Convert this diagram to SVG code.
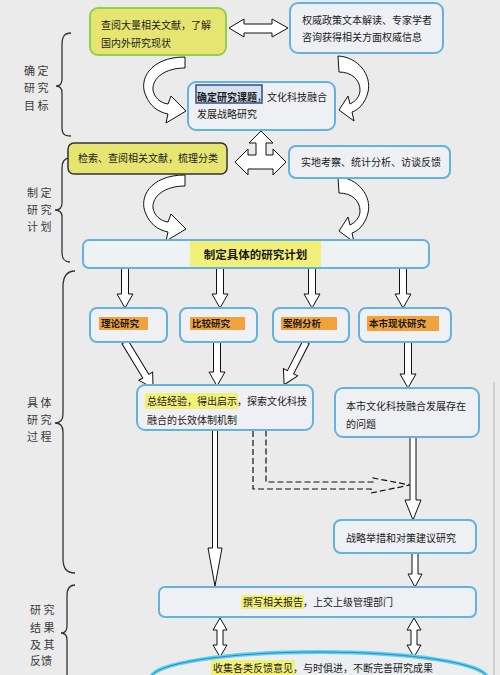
<svg xmlns="http://www.w3.org/2000/svg" width="500" height="675" viewBox="0 0 500 675">
<style>
.t{font-family:"Noto Sans CJK SC","Noto Sans",sans-serif;font-size:10px;fill:#1a1a1a}
.b{font-weight:bold}
.lbl{font-family:"Noto Sans CJK SC","Noto Sans",sans-serif;font-size:11px;fill:#3a3a3a;white-space:pre}
.bn{fill:#eef0f3;stroke:#62b3e0;stroke-width:2}
.yn{fill:#e6e571}
.hy{fill:#f3f07a}
.ho{fill:#f0a33c}
.blk{fill:#fff;stroke:#111;stroke-width:1;stroke-linejoin:miter}
.br{fill:none;stroke:#333;stroke-width:1.3}
.dash{fill:none;stroke:#111;stroke-width:1.2;stroke-dasharray:6 3}
</style>
<rect width="500" height="675" fill="#ebebeb"/>
<line x1="494" y1="382" x2="494" y2="675" stroke="#c9c9c9" stroke-width="1.5"/>

<g id="labels">
<path class="br" d="M71,33 C64,33 62,37 62,45 L62,79 C62,84 60,86 56,86 C60,86 62,88 62,93 L62,127 C62,134 64,136 71,136"/>
<text class="lbl" x="24" y="75">确 定</text>
<text class="lbl" x="24" y="92">研 究</text>
<text class="lbl" x="24" y="110">目 标</text>
<path class="br" d="M70,158 C64,158 62,162 62,168 L62,203 C62,208 59,210 55,210 C59,210 62,212 62,217 L62,252 C62,259 64,262 70,262"/>
<text class="lbl" x="27" y="197">制 定</text>
<text class="lbl" x="27" y="214">研 究</text>
<text class="lbl" x="27" y="231">计 划</text>
<path class="br" d="M75,271 C66,271 63,277 63,287 L63,414 C63,420 60,423 55,423 C60,423 63,426 63,432 L63,558 C63,568 66,573 75,573"/>
<text class="lbl" x="27" y="407">具 体</text>
<text class="lbl" x="27" y="424">研 究</text>
<text class="lbl" x="27" y="441">过 程</text>
<path class="br" d="M75,585 C69,585 67,589 67,596 L67,626 C67,631 65,633 61,633 C65,633 67,635 67,640 L67,680"/>
<text class="lbl" x="30" y="614">研 究</text>
<text class="lbl" x="30" y="632">结 果</text>
<text class="lbl" x="30" y="649">及 其</text>
<text class="lbl" x="30" y="665">反馈</text>
</g>

<g id="connectors">
<path class="blk" d="M229,28 L244,19 L244,24 L272,24 L272,19 L288,28 L272,37 L272,33 L244,33 L244,37 Z"/>
<path class="blk" d="M185,57 C150,57 138,80 146,96 C150,106 158,112 168,114 L166,123 L186,111 L171,96 L168,104 C160,103 154,97 153,90 C152,78 165,68 185,68 Z"/>
<path class="blk" d="M338,56 C358,57 372,75 368,92 C365,104 358,110 352,112 L354,121 L339,110 L348,96 L350,104 C356,101 360,96 360,90 C360,80 352,72 339,72 Z"/>
<path class="blk" d="M235,162 L248,149 L248,155 L256,155 L256,143 L249,143 L261,131 L273,143 L266,143 L266,155 L273,155 L273,149 L286,162 L273,175 L273,169 L248,169 L248,175 Z"/>
<path class="blk" transform="translate(0,118)" d="M185,57 C150,57 138,80 146,96 C150,106 158,112 168,114 L166,123 L186,111 L171,96 L168,104 C160,103 154,97 153,90 C152,78 165,68 185,68 Z"/>
<path class="blk" transform="translate(0,121)" d="M338,56 C358,57 372,75 368,92 C365,104 358,110 352,112 L354,121 L339,110 L348,96 L350,104 C356,101 360,96 360,90 C360,80 352,72 339,72 Z"/>
<path class="blk" d="M121.5,268 L128.5,268 L128.5,294 L133,294 L125,308 L117,294 L121.5,294 Z"/>
<path class="blk" d="M216.5,268 L223.5,268 L223.5,294 L228,294 L220,308 L212,294 L216.5,294 Z"/>
<path class="blk" d="M308.5,268 L315.5,268 L315.5,294 L320,294 L312,308 L304,294 L308.5,294 Z"/>
<path class="blk" d="M399.5,268 L406.5,268 L406.5,294 L411,294 L403,308 L395,294 L399.5,294 Z"/>
<path class="blk" transform="translate(125,342) rotate(-31.3)" d="M-3.5,0 L3.5,0 L3.5,40 L8,40 L0,54 L-8,40 L-3.5,40 Z"/>
<path class="blk" d="M213.5,342 L220.5,342 L220.5,372 L225,372 L217,386 L209,372 L213.5,372 Z"/>
<path class="blk" transform="translate(306,342) rotate(27.1)" d="M-3.5,0 L3.5,0 L3.5,34 L8,34 L0,48 L-8,34 L-3.5,34 Z"/>
<path class="blk" d="M404.5,342 L411.5,342 L411.5,374 L416,374 L408,388 L400,374 L404.5,374 Z"/>
<path class="blk" d="M212.5,430 L217.5,430 L217.5,548 L222,548 L215,586 L208,548 L212.5,548 Z"/>
<path class="dash" d="M253,431 L253,489 L371,489 L371,493 L410,485 L373,478 L373,482 L266,482 L266,431"/>
<path class="blk" d="M410,437 L416,437 L416,500 L421,500 L413,520 L405,500 L410,500 Z"/>
<path class="blk" d="M412,553 L418,553 L418,574 L422,574 L415,587 L408,574 L412,574 Z"/>
<path class="blk" d="M220,618 L227,630 L223,630 L223,645 L227,645 L220,657 L213,645 L217,645 L217,630 L213,630 Z"/>
<path class="blk" d="M414,618 L421,630 L417,630 L417,645 L421,645 L414,657 L407,645 L411,645 L411,630 L407,630 Z"/>
</g>

<g id="n_lit">
<rect class="yn" x="90" y="8" width="136" height="47" rx="8" stroke="#8fd14f" stroke-width="2"/>
<text class="t" x="101" y="29">查阅大量相关文献，了解</text>
<text class="t" x="101" y="47">国内外研究现状</text>
</g>
<g id="n_policy">
<rect class="bn" x="290" y="3" width="153" height="50" rx="8"/>
<text class="t" x="302" y="24">权威政策文本解读、专家学者</text>
<text class="t" x="302" y="41">咨询获得相关方面权威信息</text>
</g>
<g id="n_topic">
<rect class="bn" x="188" y="82" width="147" height="48" rx="8"/>
<rect x="196" y="85" width="66" height="18" fill="#d6e0ec" stroke="#2c4c8c" stroke-width="1.5"/>
<text class="t" x="197" y="101"><tspan class="b">确定研究课题</tspan>，文化科技融合</text>
<text class="t" x="197" y="118">发展战略研究</text>
</g>
<g id="n_search">
<rect class="yn" x="68" y="143" width="159" height="31" rx="6" stroke="#333" stroke-width="1.5"/>
<text class="t" x="78" y="162">检索、查阅相关文献，梳理分类</text>
</g>
<g id="n_field">
<rect class="bn" x="289" y="146" width="161" height="32" rx="7"/>
<text class="t" x="301" y="166">实地考察、统计分析、访谈反馈</text>
</g>
<g id="n_plan">
<rect x="83" y="240" width="346" height="28" rx="6" fill="#eef2f5" stroke="#63b2df" stroke-width="2"/>
<rect class="hy" x="190" y="241" width="131" height="26"/>
<text class="t b" x="255.5" y="259" text-anchor="middle" style="font-size:11.5px">制定具体的研究计划</text>
</g>
<g id="n_theory">
<rect class="bn" x="90" y="308" width="77" height="34" rx="7"/>
<rect class="ho" x="99" y="317" width="49" height="13"/>
<text class="t b" x="101" y="327" style="font-size:9.5px">理论研究</text>
</g>
<g id="n_compare">
<rect class="bn" x="180" y="308" width="77" height="34" rx="7"/>
<rect class="ho" x="190" y="317" width="55" height="13"/>
<text class="t b" x="192" y="327" style="font-size:9.5px">比较研究</text>
</g>
<g id="n_case">
<rect class="bn" x="273" y="308" width="76" height="34" rx="7"/>
<rect class="ho" x="281" y="317" width="56" height="13"/>
<text class="t b" x="283" y="327" style="font-size:9.5px">案例分析</text>
</g>
<g id="n_local">
<rect class="bn" x="359" y="308" width="92" height="34" rx="7"/>
<rect class="ho" x="367" y="316" width="72" height="15"/>
<text class="t b" x="369" y="327" style="font-size:9.5px">本市现状研究</text>
</g>
<g id="n_summary">
<rect class="bn" x="137" y="385" width="176" height="45" rx="8"/>
<rect class="hy" x="145" y="393" width="93" height="16"/>
<text class="t" x="147" y="405">总结经验，得出启示，探索文化科技</text>
<text class="t" x="147" y="424">融合的长效体制机制</text>
</g>
<g id="n_problem">
<rect class="bn" x="335" y="388" width="144" height="49" rx="8"/>
<text class="t" x="346" y="410">本市文化科技融合发展存在</text>
<text class="t" x="346" y="428">的问题</text>
</g>
<g id="n_strategy">
<rect class="bn" x="334" y="520" width="142" height="33" rx="7"/>
<text class="t" x="346" y="542">战略举措和对策建议研究</text>
</g>
<g id="n_report">
<rect class="bn" x="159" y="587" width="317" height="30" rx="6"/>
<rect class="hy" x="241" y="595" width="63" height="14"/>
<text class="t" x="243" y="606">撰写相关报告，上交上级管理部门</text>
</g>
<g id="n_feedback">
<ellipse cx="319" cy="678" rx="168" ry="26" fill="#eceef0" stroke="#5fd0ef" stroke-width="4"/>
<ellipse cx="319" cy="678" rx="168" ry="26" fill="none" stroke="#2b8ac4" stroke-width="1"/>
<rect class="hy" x="211" y="660" width="84" height="15"/>
<text class="t" x="213" y="672">收集各类反馈意见，与时俱进，不断完善研究成果</text>
</g>
</svg>
